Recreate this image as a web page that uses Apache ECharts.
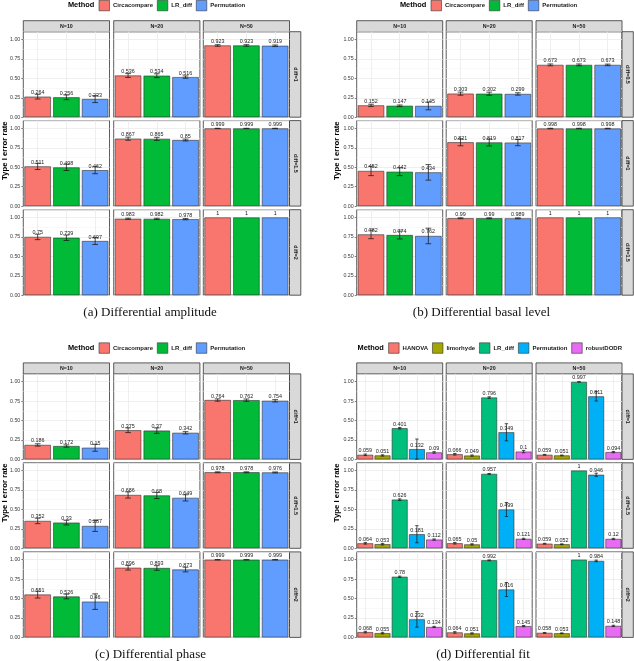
<!DOCTYPE html>
<html><head><meta charset="utf-8">
<script src="https://cdn.jsdelivr.net/npm/echarts@6/dist/echarts.min.js"></script>
<style>html,body{margin:0;padding:0;background:#fff}#c{width:634px;height:661px}</style>
</head><body><div id="c"></div><script>
// ---------------- data ----------------
const methods3 = ['Circacompare', 'LR_diff', 'Permutation'];
const methods5 = ['HANOVA', 'limorhyde', 'LR_diff', 'Permutation', 'robustDODR'];
const colors3 = ['#F8766D', '#00BA38', '#619CFF'];
const colors5 = ['#F8766D', '#A3A500', '#00BF7D', '#00B0F6', '#E76BF3'];
const sampleSizes = ['N=10', 'N=20', 'N=50'];
const yTicks = [0, 0.25, 0.5, 0.75, 1];

// (a) Differential amplitude  [row][N][method]
const ampRows = ['diff=1', 'diff=1.5', 'diff=2'];
const ampRate = [
  [[0.264, 0.256, 0.233], [0.536, 0.534, 0.516], [0.923, 0.923, 0.919]],
  [[0.511, 0.498, 0.462], [0.867, 0.865, 0.85], [0.999, 0.999, 0.999]],
  [[0.75, 0.739, 0.697], [0.983, 0.982, 0.978], [1, 1, 1]]
];
const ampErr = [
  [[0.03, 0.03, 0.045], [0.025, 0.025, 0.015], [0.01, 0.01, 0.01]],
  [[0.04, 0.04, 0.045], [0.02, 0.02, 0.012], [0.002, 0.002, 0.002]],
  [[0.035, 0.035, 0.045], [0.008, 0.008, 0.008], [0, 0, 0]]
];

// (b) Differential basal level
const basRows = ['diff=0.5', 'diff=1', 'diff=1.5'];
const basRate = [
  [[0.152, 0.147, 0.145], [0.303, 0.302, 0.299], [0.673, 0.673, 0.673]],
  [[0.452, 0.442, 0.434], [0.821, 0.819, 0.817], [0.998, 0.998, 0.998]],
  [[0.782, 0.774, 0.762], [0.99, 0.99, 0.989], [1, 1, 1]]
];
const basErr = [
  [[0.015, 0.01, 0.05], [0.02, 0.02, 0.015], [0.012, 0.012, 0.01]],
  [[0.06, 0.05, 0.1], [0.045, 0.045, 0.04], [0.003, 0.003, 0.003]],
  [[0.055, 0.05, 0.1], [0.006, 0.006, 0.006], [0, 0, 0]]
];

// (c) Differential phase
const phaRows = ['diff=1', 'diff=1.5', 'diff=2'];
const phaRate = [
  [[0.186, 0.172, 0.15], [0.375, 0.37, 0.342], [0.764, 0.762, 0.754]],
  [[0.352, 0.33, 0.287], [0.686, 0.68, 0.649], [0.978, 0.978, 0.976]],
  [[0.551, 0.526, 0.46], [0.896, 0.893, 0.873], [0.999, 0.999, 0.999]]
];
const phaErr = [
  [[0.015, 0.015, 0.045], [0.03, 0.035, 0.015], [0.015, 0.015, 0.015]],
  [[0.035, 0.03, 0.07], [0.04, 0.04, 0.04], [0.006, 0.006, 0.006]],
  [[0.045, 0.03, 0.1], [0.03, 0.03, 0.03], [0.002, 0.002, 0.002]]
];

// (d) Differential fit
const fitRows = ['diff=1', 'diff=1.5', 'diff=2'];
const fitRate = [
  [[0.059, 0.051, 0.401, 0.132, 0.09], [0.066, 0.049, 0.796, 0.349, 0.1], [0.059, 0.051, 0.997, 0.811, 0.094]],
  [[0.064, 0.053, 0.626, 0.181, 0.112], [0.065, 0.05, 0.957, 0.499, 0.121], [0.059, 0.052, 1, 0.946, 0.12]],
  [[0.068, 0.055, 0.78, 0.232, 0.134], [0.064, 0.051, 0.992, 0.616, 0.145], [0.058, 0.053, 1, 0.984, 0.148]]
];
const fitErr = [
  [[0.01, 0.008, 0.01, 0.13, 0.01], [0.01, 0.008, 0.01, 0.11, 0.015], [0.005, 0.005, 0.003, 0.06, 0.008]],
  [[0.01, 0.01, 0.01, 0.11, 0.008], [0.01, 0.008, 0.005, 0.09, 0.008], [0.005, 0.005, 0, 0.02, 0.008]],
  [[0.01, 0.01, 0.008, 0.1, 0.008], [0.01, 0.008, 0.005, 0.09, 0.008], [0.005, 0.005, 0, 0.01, 0.008]]
];

const captions = ['(a) Differential amplitude', '(b) Differential basal level', '(c) Differential phase', '(d) Differential fit'];

// ---------------- layout ----------------
const SANS = '"Liberation Sans", Arial, sans-serif';
const panels = [
  { methods: methods3, colors: colors3, rows: ampRows, rate: ampRate, err: ampErr, caption: captions[0],
    x0: [23.3, 113.7, 203.3], w: 86.2, tops: [31.7, 120.6, 209.7], stripX: 289.5, stripY: 20.7,
    legLeft: 98.7, legTop: 0, titleX: 4.5, capX: 150, capY: 313 },
  { methods: methods3, colors: colors3, rows: basRows, rate: basRate, err: basErr, caption: captions[1],
    x0: [356.7, 446.2, 536], w: 86, tops: [31.7, 120.6, 209.7], stripX: 622, stripY: 20.7,
    legLeft: 430.7, legTop: 0, titleX: 336.5, capX: 481.5, capY: 313 },
  { methods: methods3, colors: colors3, rows: phaRows, rate: phaRate, err: phaErr, caption: captions[2],
    x0: [23.3, 113.7, 203.3], w: 86.2, tops: [373.9, 462.8, 551.9], stripX: 289.5, stripY: 362.9,
    legLeft: 98.7, legTop: 342.5, titleX: 4.5, capX: 150.5, capY: 654.5 },
  { methods: methods5, colors: colors5, rows: fitRows, rate: fitRate, err: fitErr, caption: captions[3],
    x0: [356.7, 446.2, 536], w: 86, tops: [373.9, 462.8, 551.9], stripX: 622, stripY: 362.9,
    legLeft: 388.3, legTop: 342.5, titleX: 336.5, capX: 483, capY: 654.5 }
];
const H = 85.5, STRIP = 11.3;

const grid = [], xAxis = [], yAxis = [], series = [], graphic = [], legend = [];

function errRender(params, api) {
  const i = api.value(0), v = api.value(1), e = api.value(2);
  if (!e) return null;
  const top = api.coord([i, Math.min(v + e, 1.1)]);
  const bot = api.coord([i, Math.max(v - e, 0)]);
  const band = api.size([1, 0])[0];
  const hw = band * 0.1;
  const st = { stroke: '#1a1a1a', lineWidth: 0.75 };
  return { type: 'group', children: [
    { type: 'line', shape: { x1: top[0], y1: top[1], x2: bot[0], y2: bot[1] }, style: st },
    { type: 'line', shape: { x1: top[0] - hw, y1: top[1], x2: top[0] + hw, y2: top[1] }, style: st },
    { type: 'line', shape: { x1: bot[0] - hw, y1: bot[1], x2: bot[0] + hw, y2: bot[1] }, style: st }
  ]};
}

panels.forEach((P) => {
  P.rows.forEach((rowName, r) => {
    sampleSizes.forEach((nName, c) => {
      const g = grid.length;
      grid.push({ left: P.x0[c], top: P.tops[r], width: P.w, height: H, show: true,
        borderColor: '#333', borderWidth: 0.8, backgroundColor: '#fff' });
      const xi = xAxis.length;
      xAxis.push({ gridIndex: g, type: 'category', data: P.methods, boundaryGap: true,
        axisLabel: { show: false }, axisTick: { show: false }, axisLine: { show: false },
        splitLine: { show: false } });
      // helper axis giving vertical grid lines at the category centres
      xAxis.push({ gridIndex: g, type: 'value', min: 0, max: P.methods.length, interval: 0.5, position: 'top',
        axisLabel: { show: false }, axisTick: { show: false }, axisLine: { show: false },
        splitLine: { show: true, lineStyle: { color: ['rgba(0,0,0,0)', '#EBEBEB'], width: 0.8 } } });
      yAxis.push({ gridIndex: g, type: 'value', min: 0, max: 1.1, interval: 0.25,
        axisLine: { show: false },
        axisTick: { show: c === 0, length: 2, customValues: yTicks, lineStyle: { color: '#333', width: 0.6 } },
        axisLabel: { show: c === 0, customValues: yTicks, margin: 3, fontSize: 5.3, fontFamily: SANS, color: '#3A3A3A',
          formatter: (v) => (Math.abs(v * 4 - Math.round(v * 4)) < 1e-6 && v <= 1.0001) ? v.toFixed(2) : '' },
        splitLine: { show: true, lineStyle: { color: '#EBEBEB', width: 0.8 } } });
      yAxis.push({ gridIndex: g, type: 'value', min: 0, max: 1.1, interval: 0.125, position: 'right',
        axisLine: { show: false }, axisTick: { show: false }, axisLabel: { show: false },
        splitLine: { show: true, lineStyle: { color: ['rgba(0,0,0,0)', '#F4F4F4'], width: 0.6 } } });
      const yi = yAxis.length - 2;
      const vals = P.rate[r][c], errs = P.err[r][c];
      P.methods.forEach((m, j) => {
        series.push({ type: 'bar', name: m, xAxisIndex: xi, yAxisIndex: yi, barWidth: '92%', barGap: '-100%',
          data: P.methods.map((_, k) => (k === j ? vals[k] : '-')),
          itemStyle: { color: P.colors[j], borderColor: '#333', borderWidth: 0.6 },
          label: { show: true, position: 'top', distance: 1.5, fontSize: 5.4, fontFamily: SANS, color: '#222',
            formatter: (p) => String(p.value) },
          silent: true, animation: false });
      });
      series.push({ type: 'custom', xAxisIndex: xi, yAxisIndex: yi, z: 3, silent: true, animation: false,
        renderItem: errRender, data: P.methods.map((_, k) => [k, vals[k], errs[k]]) });
      // top strips
      if (r === 0) {
        graphic.push({ type: 'rect', shape: { x: P.x0[c], y: P.stripY, width: P.w, height: P.tops[0] - P.stripY },
          style: { fill: '#D9D9D9', stroke: '#333', lineWidth: 0.8 } });
        graphic.push({ type: 'text', x: P.x0[c] + P.w / 2, y: (P.stripY + P.tops[0]) / 2,
          style: { text: nName, x: 0, y: 0, align: 'center', verticalAlign: 'middle', fill: '#1A1A1A',
            font: 'bold 5.3px ' + SANS } });
      }
    });
    // right strips
    graphic.push({ type: 'rect', shape: { x: P.stripX, y: P.tops[r], width: STRIP, height: H },
      style: { fill: '#D9D9D9', stroke: '#333', lineWidth: 0.8 } });
    graphic.push({ type: 'text', x: P.stripX + STRIP / 2, y: P.tops[r] + H / 2, rotation: -Math.PI / 2,
      style: { text: rowName, x: 0, y: 0, align: 'center', verticalAlign: 'middle', fill: '#1A1A1A',
        font: 'bold 5.3px ' + SANS } });
  });
  // y title
  graphic.push({ type: 'text', x: P.titleX, y: P.tops[0] + 119, rotation: Math.PI / 2,
    style: { text: 'Type I error rate', x: 0, y: 0, align: 'center', verticalAlign: 'middle', fill: '#000',
      font: 'bold 7.8px ' + SANS } });
  // legend title
  graphic.push({ type: 'text', x: P.legLeft - 4.5, y: P.legTop + 5.2,
    style: { text: 'Method', x: 0, y: 0, align: 'right', verticalAlign: 'middle', fill: '#000',
      font: 'bold 7.4px ' + SANS } });
  // caption
  graphic.push({ type: 'text', x: P.capX, y: P.capY,
    style: { text: P.caption, x: 0, y: 0, align: 'center', verticalAlign: 'middle', fill: '#111',
      font: '13px "Liberation Serif", "DejaVu Serif", serif' } });
  legend.push({ left: P.legLeft, top: P.legTop, padding: 0, itemWidth: 10.5, itemHeight: 10.5, itemGap: 4,
    icon: 'rect', selectedMode: false, orient: 'horizontal',
    textStyle: { fontSize: 6, fontWeight: 'bold', color: '#1A1A1A', fontFamily: SANS, padding: [0, 0, 0, -1.5] },
    data: P.methods.map((m, j) => ({ name: m, itemStyle: { color: P.colors[j], borderColor: '#333', borderWidth: 0.6 } })) });
});

const chart = echarts.init(document.getElementById('c'), null, { renderer: 'canvas', width: 634, height: 661 });
chart.setOption({ animation: false, backgroundColor: '#fff', grid, xAxis, yAxis, series, legend, graphic });
</script></body></html>
